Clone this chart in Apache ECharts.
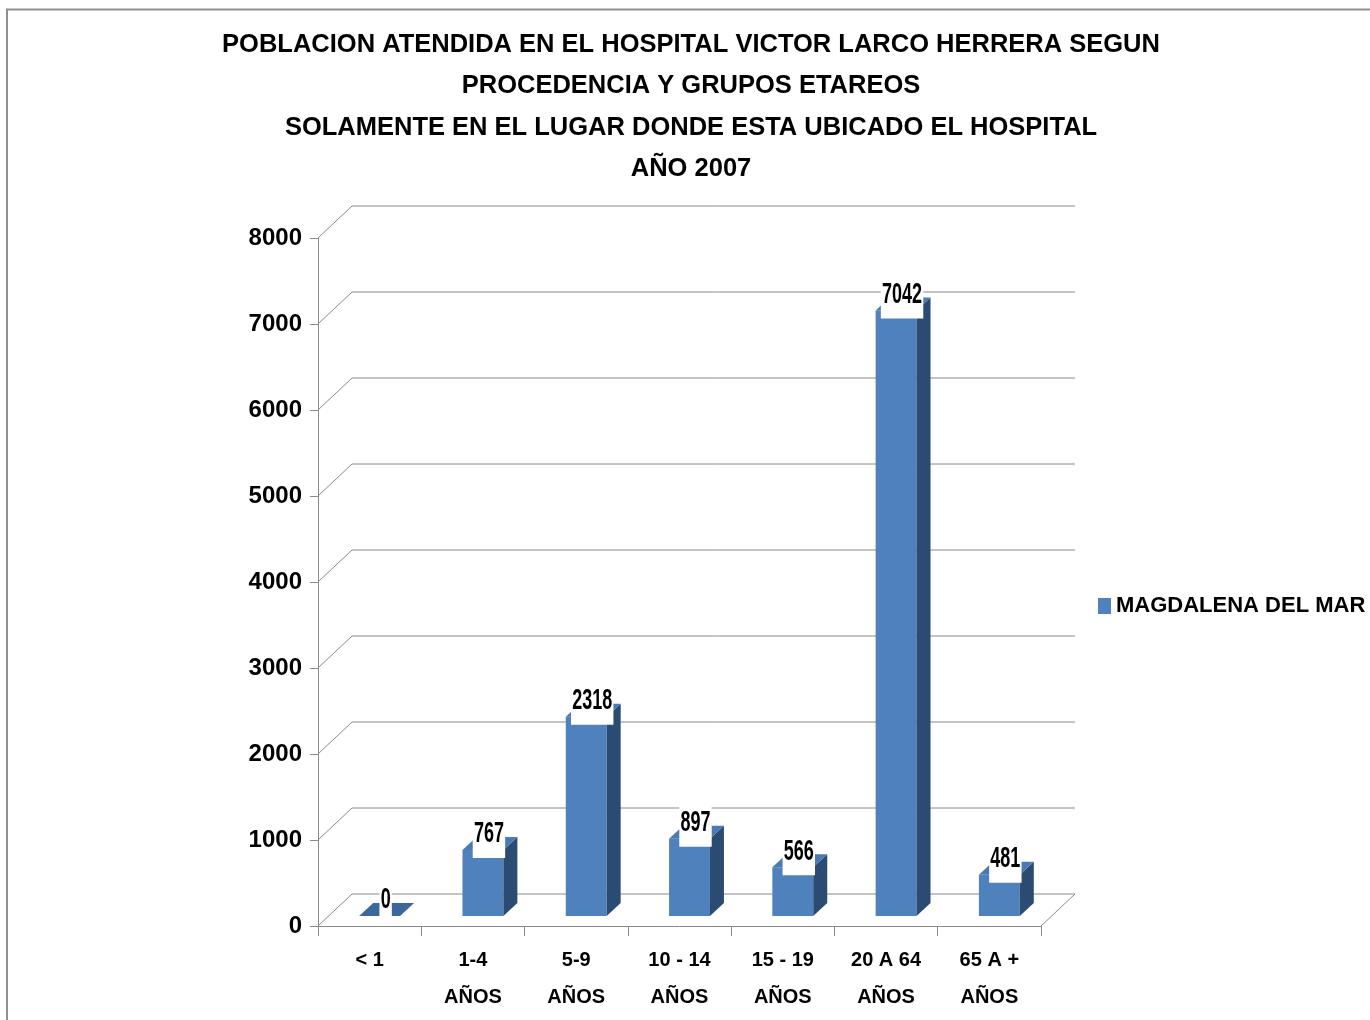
<!DOCTYPE html>
<html>
<head>
<meta charset="utf-8">
<script src="https://cdn.jsdelivr.net/npm/echarts@6/dist/echarts.min.js"></script>
<style>
  html, body { margin: 0; padding: 0; background: #fff; }
  #main { width: 1370px; height: 1020px; }
</style>
</head>
<body>
<div id="main"></div>
<script>
const titleLines = [
  "POBLACION ATENDIDA EN EL HOSPITAL VICTOR LARCO HERRERA SEGUN",
  "PROCEDENCIA Y GRUPOS ETAREOS",
  "SOLAMENTE EN EL LUGAR DONDE ESTA UBICADO EL HOSPITAL",
  "AÑO 2007"
];
const categories = ["< 1", "1-4\nAÑOS", "5-9\nAÑOS", "10 - 14\nAÑOS", "15 - 19\nAÑOS", "20 A 64\nAÑOS", "65 A +\nAÑOS"];
const values = [0, 767, 2318, 897, 566, 7042, 481];
const seriesName = "MAGDALENA DEL MAR";
const yTicks = [0, 1000, 2000, 3000, 4000, 5000, 6000, 7000, 8000];

// 3d look (pixels)
const DEPTH_X = 34, DEPTH_Y = -32;     // back wall offset
const FRONT_X = 10, FRONT_Y = -10;     // bar front face offset
const BAR_DX = 14, BAR_DY = -13;       // bar depth

const FONT = '"Liberation Sans", Arial, sans-serif';

const chart = echarts.init(document.getElementById("main"));

function renderWall(params, api) {
  const v = api.value(1);
  const band = api.size([1, 0])[0];
  const y = api.coord([0, v])[1];
  const xl = api.coord([0, v])[0] - band / 2;
  const xr = api.coord([categories.length - 1, v])[0] + band / 2;
  const pts = [[xl, y], [xl + DEPTH_X, y + DEPTH_Y], [xr + DEPTH_X, y + DEPTH_Y]];
  if (v === 0) pts.push([xr, y]);
  return {
    type: "polyline",
    shape: { points: pts },
    style: { stroke: "#8a8a8a", lineWidth: 1, fill: null }
  };
}

function renderBar(params, api) {
  const i = api.value(0);
  const v = api.value(1);
  const band = api.size([1, 0])[0];
  const w = band * 0.396;
  const top = api.coord([i, v]);
  const base = api.coord([i, 0]);
  const cx = top[0] + FRONT_X;
  const L = cx - w / 2, R = cx + w / 2;
  const yb = base[1] + FRONT_Y, yt = top[1] + FRONT_Y;
  const children = [];
  if (yb - yt > 0.5) {
    children.push({
      type: "rect",
      shape: { x: L, y: yt, width: w, height: yb - yt },
      style: { fill: "#4F81BD" }
    });
    children.push({
      type: "polygon",
      shape: { points: [[R, yb], [R + BAR_DX, yb + BAR_DY], [R + BAR_DX, yt + BAR_DY], [R, yt]] },
      style: { fill: "#2B4B72" }
    });
  }
  children.push({
    type: "polygon",
    shape: { points: [[L, yt], [L + BAR_DX, yt + BAR_DY], [R + BAR_DX, yt + BAR_DY], [R, yt]] },
    style: { fill: v === 0 ? "#3D679C" : "#4A7AB4" }
  });
  children.push({
    type: "text",
    x: cx + 6,
    y: yt + 8,
    scaleX: 0.6,
    style: {
      text: String(v),
      align: "center",
      verticalAlign: "bottom",
      font: "bold 30px " + FONT,
      lineHeight: 26,
      fill: "#000",
      backgroundColor: "#fff",
      padding: [4, 2, 11, 2]
    }
  });
  return { type: "group", children: children };
}

const option = {
  backgroundColor: "#fff",
  animation: false,
  title: {
    text: titleLines.join("\n"),
    left: 686,
    top: 19,
    textAlign: "center",
    textStyle: {
      fontFamily: FONT,
      fontSize: 25.5,
      fontWeight: "bold",
      color: "#000",
      lineHeight: 41.5
    }
  },
  legend: {
    data: [seriesName],
    left: 1093,
    top: 590,
    icon: "rect",
    itemWidth: 13,
    itemHeight: 16,
    textStyle: {
      fontFamily: FONT,
      fontSize: 22,
      fontWeight: "bold",
      color: "#000"
    }
  },
  grid: { left: 318, right: 329, top: 238, bottom: 94 },
  xAxis: {
    type: "category",
    data: categories,
    axisLine: { lineStyle: { color: "#8a8a8a", width: 1 } },
    axisTick: { show: true, length: 10, lineStyle: { color: "#8a8a8a" } },
    axisLabel: {
      margin: 16,
      fontFamily: FONT,
      fontSize: 20,
      fontWeight: "bold",
      color: "#000",
      lineHeight: 37
    },
    splitLine: { show: false }
  },
  yAxis: {
    type: "value",
    min: 0,
    max: 8000,
    interval: 1000,
    axisLine: { show: true, lineStyle: { color: "#8a8a8a", width: 1 } },
    axisTick: { show: true, length: 8, lineStyle: { color: "#8a8a8a" } },
    axisLabel: {
      margin: 16,
      fontFamily: FONT,
      fontSize: 24,
      fontWeight: "bold",
      color: "#000",
      formatter: v => String(v)
    },
    splitLine: { show: false }
  },
  series: [
    {
      name: "wall",
      type: "custom",
      clip: false,
      silent: true,
      z: 1,
      renderItem: renderWall,
      data: yTicks.map(v => [0, v])
    },
    {
      name: seriesName,
      type: "custom",
      clip: false,
      z: 2,
      itemStyle: { color: "#4F81BD" },
      renderItem: renderBar,
      data: values.map((v, i) => [i, v])
    }
  ],
  graphic: [
    {
      type: "polyline",
      shape: { points: [[7, 1030], [7, 9.5], [1380, 9.5]] },
      style: { stroke: "#8f8f8f", lineWidth: 2, fill: null },
      z: 10
    }
  ]
};

chart.setOption(option);
</script>
</body>
</html>
